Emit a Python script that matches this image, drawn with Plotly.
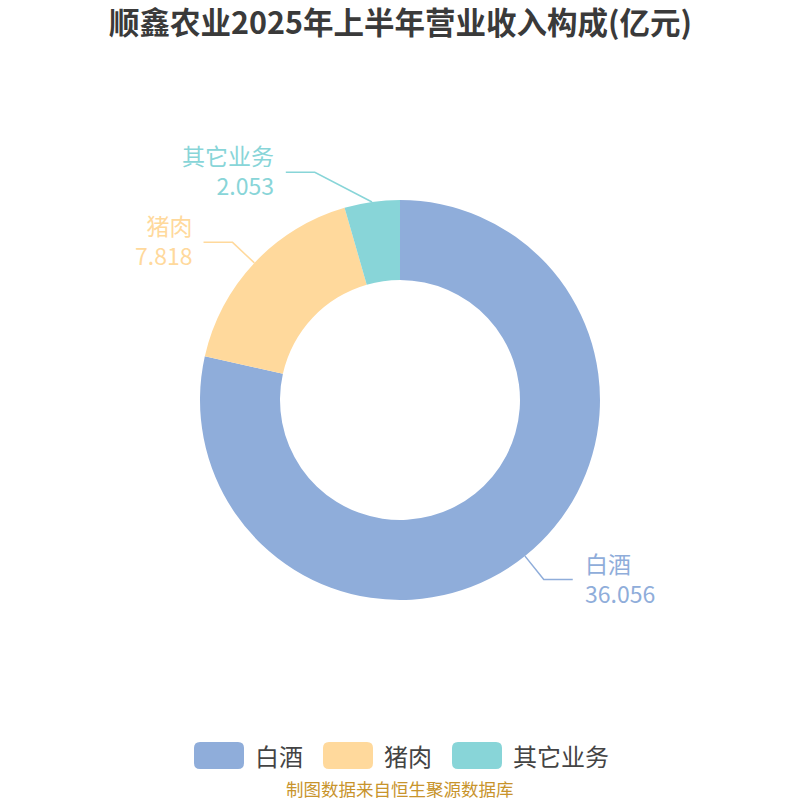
import math
import plotly.graph_objects as go

# ---- data ----
categories = ["白酒", "猪肉", "其它业务"]
values = [36.056, 7.818, 2.053]
value_labels = ["36.056", "7.818", "2.053"]
colors = ["#8FADDA", "#FFD99C", "#88D5D8"]
title_text = "顺鑫农业2025年上半年营业收入构成(亿元)"
source_text = "制图数据来自恒生聚源数据库"

W, H = 800, 800
CX, CY, R = 400, 400, 200
FONT = "Noto Sans CJK SC, Noto Sans, sans-serif"

fig = go.Figure(go.Pie(
    labels=categories, values=values,
    marker=dict(colors=colors, line=dict(width=0)),
    hole=0.6, sort=False, direction="clockwise", rotation=0,
    textinfo="none", hoverinfo="skip", showlegend=False,
    domain=dict(x=[(CX - R) / W, (CX + R) / W], y=[1 - (CY + R) / H, 1 - (CY - R) / H]),
))

def px(x):
    return x / W

def py(y):
    return 1 - y / H

shapes = []
annotations = []

# leader lines + outside labels (positions derived from slice angles)
total = sum(values)
cum = 0.0
elbow_shift_x = {"其它业务": -53}
for name, v, vl, c in zip(categories, values, value_labels, colors):
    mid = (cum + v / 2) / total * 2 * math.pi
    cum += v
    sx, sy = CX + R * math.sin(mid), CY - R * math.cos(mid)
    ex, ey = CX + (R + 30) * math.sin(mid), CY - (R + 30) * math.cos(mid)
    ex += elbow_shift_x.get(name, 0)
    right = math.sin(mid) >= 0
    hx = ex + 29 if right else ex - 29
    shapes.append(dict(type="path", xref="paper", yref="paper",
                       path=f"M {px(sx)} {py(sy)} L {px(ex)} {py(ey)} L {px(hx)} {py(ey)}",
                       line=dict(color=c, width=1.5)))
    tx = hx + 10 if right else hx - 10
    anchor = "left" if right else "right"
    annotations.append(dict(x=px(tx), y=py(ey - 2), xref="paper", yref="paper",
                            text=f"{name}<br>{vl}", showarrow=False, xanchor=anchor,
                            yanchor="middle", align=anchor,
                            font=dict(family=FONT, size=23, color=c)))

# title
annotations.append(dict(x=0.5, y=py(21), xref="paper", yref="paper", text=f"<b>{title_text}</b>",
                        showarrow=False, xanchor="center", yanchor="middle",
                        font=dict(family=FONT, size=30.5, color="#3a3a3a")))

# manual legend with rounded swatches
sw_w, sw_h, rad = 50, 27, 6
lx = 194
ly0 = 742
for name, c in zip(categories, colors):
    x0, x1, y0, y1 = lx, lx + sw_w, ly0, ly0 + sw_h
    path = (f"M {px(x0+rad)} {py(y0)} L {px(x1-rad)} {py(y0)} Q {px(x1)} {py(y0)} {px(x1)} {py(y0+rad)} "
            f"L {px(x1)} {py(y1-rad)} Q {px(x1)} {py(y1)} {px(x1-rad)} {py(y1)} "
            f"L {px(x0+rad)} {py(y1)} Q {px(x0)} {py(y1)} {px(x0)} {py(y1-rad)} "
            f"L {px(x0)} {py(y0+rad)} Q {px(x0)} {py(y0)} {px(x0+rad)} {py(y0)} Z")
    shapes.append(dict(type="path", xref="paper", yref="paper", path=path,
                       fillcolor=c, line=dict(width=0)))
    annotations.append(dict(x=px(x1 + 9), y=py(ly0 + sw_h / 2), xref="paper", yref="paper",
                            text=name, showarrow=False, xanchor="left", yanchor="middle",
                            font=dict(family=FONT, size=24, color="#444444")))
    lx = x1 + 11 + len(name) * 24 + 20

annotations.append(dict(x=0.5, y=py(788), xref="paper", yref="paper", text=source_text,
                        showarrow=False, xanchor="center", yanchor="middle",
                        font=dict(family=FONT, size=17.5, color="#C8942C")))

fig.update_layout(
    width=W, height=H, margin=dict(l=0, r=0, t=0, b=0),
    paper_bgcolor="white", plot_bgcolor="white",
    shapes=shapes, annotations=annotations, showlegend=False,
)
fig.write_html("out.html", config={"displayModeBar": False},
               post_script="document.body.style.margin='0';document.body.style.overflow='hidden';")
